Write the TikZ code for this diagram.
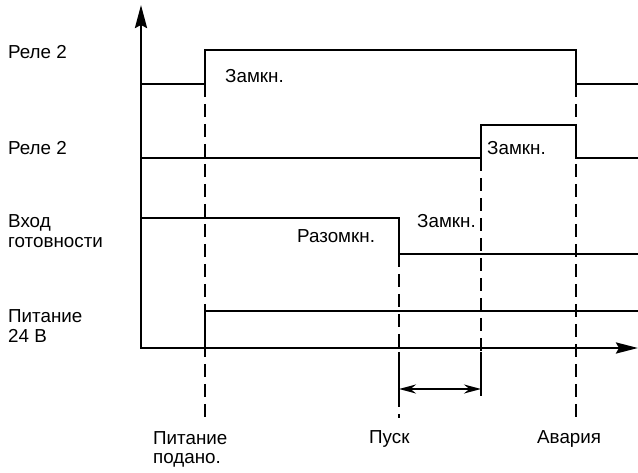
\documentclass[tikz,border=0pt]{standalone}
\usepackage{fontspec}
\setmainfont{Liberation Sans}
\usetikzlibrary{arrows.meta, positioning}

\tikzset{
	sig/.style={line width=2.7pt},
	guide/.style={line width=2.2pt, dash pattern=on 13pt off 7pt},
	txt/.style={inner sep=0pt, anchor=base west, align=left, font=\fontsize{18.8}{20}\selectfont},
}

\begin{document}
\begin{tikzpicture}[x=1pt, y=-1pt]
		\useasboundingbox (0,0) rectangle (638,473);
		
		% assi
		\coordinate (Ytop) at (141,5);
		\coordinate (O) at (141,348);
		\coordinate (Xend) at (638,348);
		\draw[sig, {Stealth[length=23pt, width=12pt, inset=3pt]}-{Stealth[length=22pt, width=11pt, inset=3pt]}] (Ytop)--(O)--(Xend);
		
		% istanti
		\coordinate (T1) at (205,418);
		\coordinate (T2) at (399,418);
		\coordinate (T3) at (481,396);
		\coordinate (T4) at (576,418);
		
		% Реле 2 (sopra)
		\coordinate (A0) at (141,84);
		\coordinate (A1) at (205,50);
		\coordinate (A2) at (576,84);
		\coordinate (A3) at (638,84);
		\draw[sig] (A0) -| (A1) -| (A2) -- (A3);
		
		% Реле 2 (sotto)
		\coordinate (B0) at (141,158);
		\coordinate (B1) at (481,125);
		\coordinate (B2) at (576,158);
		\coordinate (B3) at (638,158);
		\draw[sig] (B0) -| (B1) -| (B2) -- (B3);
		
		% Вход готовности
		\coordinate (C0) at (141,218);
		\coordinate (C1) at (399,254);
		\coordinate (C2) at (638,254);
		\draw[sig] (C0) -| (C1) -- (C2);
		
		% Питание
		\coordinate (D0) at (205,348);
		\coordinate (D1) at (638,311);
		\draw[sig] (D0) |- (D1);
		
		% tratteggi
		\draw[guide] (A0 -| T1)--(T1);
		\draw[guide] (C1)--(T2);
		\draw[guide] (B2 -| T3)--(T3);
		\draw[guide] (A2)--(T4);
		
		% intervallo
		\coordinate (P) at (399,352);
		\coordinate (Q) at (481,352);
		\draw[line width=2.2pt] (P)--(399,397);
		\draw[line width=2.2pt] (Q)--(T3);
		\draw[line width=1.8pt, {Stealth[length=17pt, width=9pt]}-{Stealth[length=17pt, width=9pt]}] (399,389)--(481,389);
		
		% testi
		\node[txt] (rele1) at (8,59) {Реле 2};
		\node[txt] (rele2) at (8,155) {Реле 2};
		\node[txt] (vhod) at (8,248) {Вход\\готовности};
		\node[txt] (pit) at (8,343) {Питание\\24 В};
		\node[txt] (zam1) at (225,83) {Замкн.};
		\node[txt] (zam2) at (487,155) {Замкн.};
		\node[txt] (zam3) at (417,228) {Замкн.};
		\node[txt] (razom) at (297,243) {Разомкн.};
		\node[txt] (podano) at (153,464) {Питание\\подано.};
		\node[txt] (pusk) at (369,443) {Пуск};
		\node[txt] (avar) at (537,443) {Авария};
\end{tikzpicture}
\end{document}
